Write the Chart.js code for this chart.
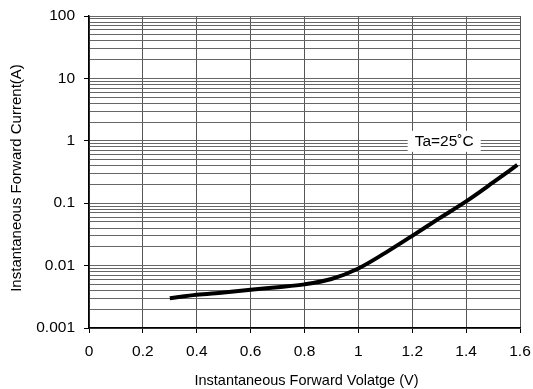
<!DOCTYPE html>
<html>
<head>
<meta charset="utf-8">
<script src="https://cdn.jsdelivr.net/npm/chart.js@4/dist/chart.umd.min.js"></script>
<style>
html,body{margin:0;padding:0;background:#fff;}
#wrap{position:relative;width:533px;height:389px;}
</style>
</head>
<body>
<div id="wrap"><canvas id="c" width="533" height="389"></canvas></div>
<script>
// Data
const voltage = [0.30, 0.40, 0.50, 0.60, 0.70, 0.80, 0.90, 1.00, 1.10, 1.20, 1.30, 1.40, 1.50, 1.59];
const current = [0.0030, 0.0034, 0.0037, 0.0041, 0.0045, 0.0050, 0.0061, 0.0090, 0.0160, 0.0300, 0.0570, 0.1070, 0.2150, 0.4100];
const xTicks = [0, 0.2, 0.4, 0.6, 0.8, 1, 1.2, 1.4, 1.6];
const yDecades = [0.001, 0.01, 0.1, 1, 10, 100];
const yDecadeLabels = ['0.001', '0.01', '0.1', '1', '10', '100'];
const annotationText = 'Ta=25\u02DAC';
const xTitle = 'Instantaneous Forward Volatge (V)';
const yTitle = 'Instantaneous Forward Current(A)';

const FONT = '"Liberation Sans", Arial, sans-serif';
const pts = voltage.map((v, i) => ({x: v, y: current[i]}));

function isDecade(v) {
  return yDecades.some(d => Math.abs(v - d) / d < 1e-6);
}

const annotationPlugin = {
  id: 'anno',
  afterDraw(chart) {
    const ctx = chart.ctx;
    const xs = chart.scales.x, ys = chart.scales.y;
    const cx = (xs.getPixelForValue(1.2) + xs.getPixelForValue(1.4)) / 2 + 5;
    const cy = ys.getPixelForValue(1);
    ctx.save();
    ctx.font = '15.5px ' + FONT;
    const w = ctx.measureText(annotationText).width + 14;
    ctx.fillStyle = '#fff';
    ctx.fillRect(cx - w / 2, cy - 10, w, 21);
    ctx.fillStyle = '#000';
    ctx.textAlign = 'center';
    ctx.textBaseline = 'middle';
    ctx.fillText(annotationText, cx, cy + 1);

    // axis titles
    const ca = chart.chartArea;
    ctx.font = '14.5px ' + FONT;
    ctx.fillText(xTitle, (ca.left + ca.right) / 2 + 2, 381);
    ctx.translate(17, (ca.top + ca.bottom) / 2 + 6);
    ctx.rotate(-Math.PI / 2);
    ctx.font = '15px ' + FONT;
    ctx.fillText(yTitle, 0, 0);
    ctx.restore();
  }
};

new Chart(document.getElementById('c'), {
  type: 'scatter',
  data: {
    datasets: [{
      data: pts,
      showLine: true,
      borderColor: '#000',
      borderWidth: 4,
      pointRadius: 0,
      cubicInterpolationMode: 'monotone',
      fill: false
    }]
  },
  options: {
    responsive: false,
    animation: false,
    devicePixelRatio: 1,
    layout: {padding: {left: 0, right: 13, top: 16, bottom: 0}},
    plugins: {legend: {display: false}, tooltip: {enabled: false}},
    scales: {
      x: {
        type: 'linear',
        min: 0, max: 1.6,
        afterBuildTicks(s) { s.ticks = xTicks.map(v => ({value: v})); },
        afterFit(s) { s.height = 61; s.paddingRight = 0; s.paddingLeft = 0; },
        ticks: {
          color: '#000',
          font: {family: FONT, size: 15.5},
          padding: 9,
          maxRotation: 0,
          callback: v => String(v)
        },
        grid: {
          color: '#555',
          lineWidth: 1,
          tickLength: 5,
          tickColor: '#000',
          drawOnChartArea: true
        },
        border: {color: '#000', width: 1.5},
        title: {display: false}
      },
      y: {
        type: 'logarithmic',
        min: 0.001, max: 100,
        afterBuildTicks(s) {
          const t = [];
          for (let e = -3; e <= 2; e++) {
            for (let m = 1; m <= 9; m++) {
              const v = m * Math.pow(10, e);
              if (v <= 100 * 1.0001) t.push({value: v});
            }
          }
          s.ticks = t;
        },
        afterFit(s) { s.width = 89; s.paddingTop = 0; s.paddingBottom = 0; },
        ticks: {
          color: '#000',
          font: {family: FONT, size: 15.5},
          padding: 9,
          autoSkip: false,
          callback: function(v) {
            const i = yDecades.findIndex(d => Math.abs(v - d) / d < 1e-6);
            return i >= 0 ? yDecadeLabels[i] : '';
          }
        },
        grid: {
          color: '#666',
          lineWidth: 1,
          tickLength: 5,
          tickColor: ctx => (ctx.tick && isDecade(ctx.tick.value)) ? '#000' : 'rgba(0,0,0,0)'
        },
        border: {color: '#000', width: 1.5},
        title: {display: false}
      }
    }
  },
  plugins: [annotationPlugin]
});
</script>
</body>
</html>
